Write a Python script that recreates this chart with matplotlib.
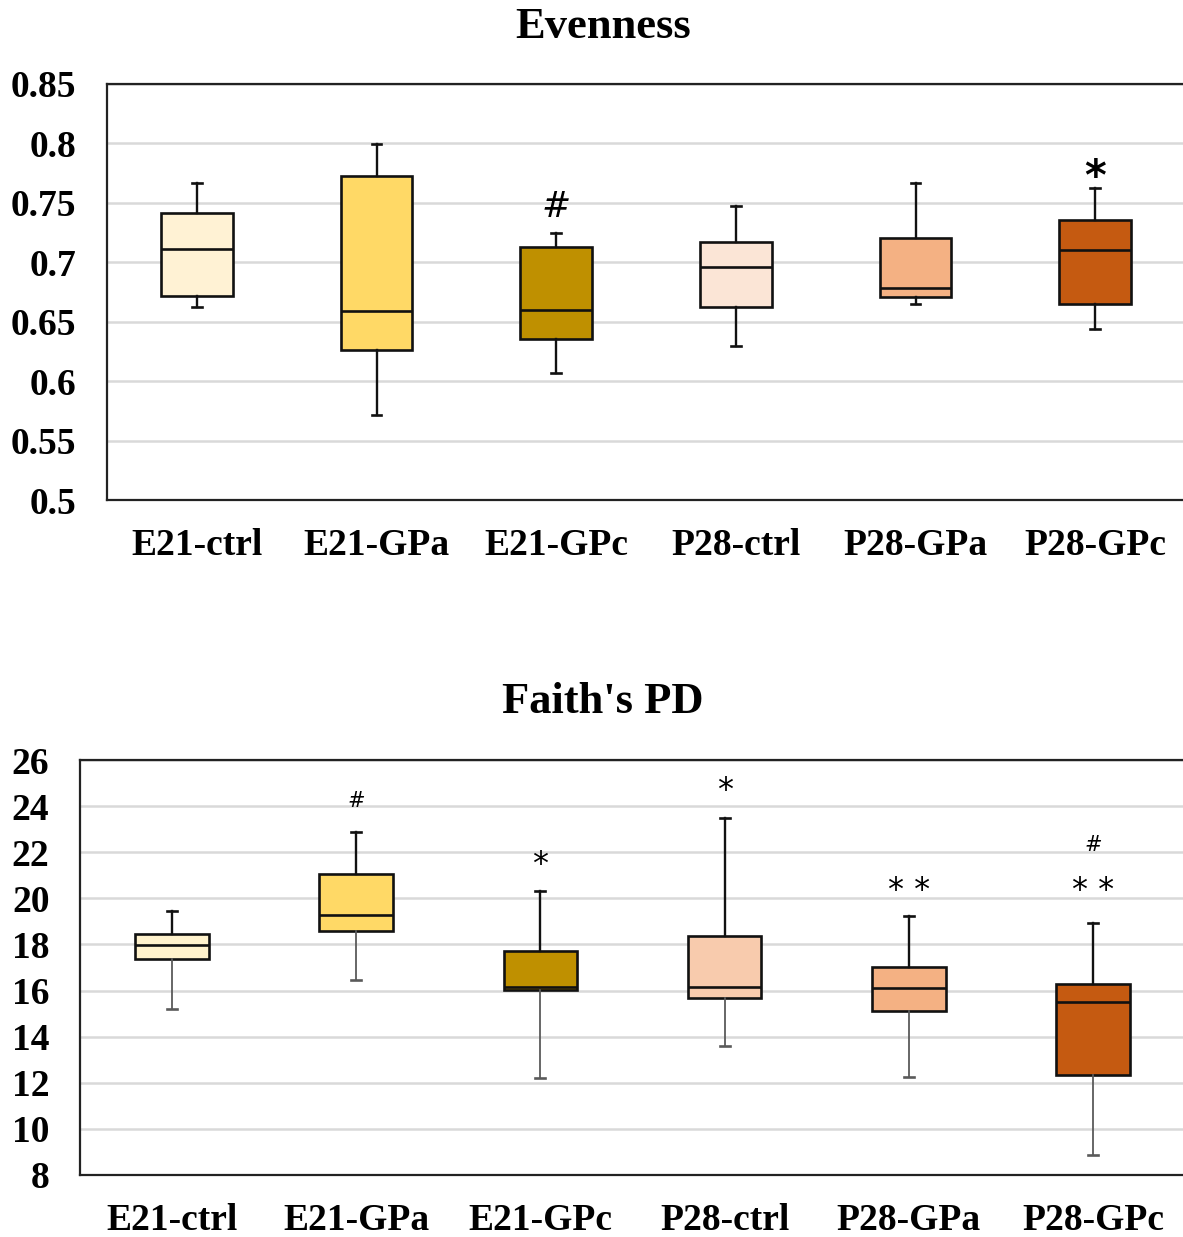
import matplotlib
matplotlib.use("Agg")
import matplotlib.pyplot as plt
from matplotlib.transforms import offset_copy

plt.rcParams['font.family'] = ['Liberation Serif', 'DejaVu Serif']

groups = ['E21-ctrl', 'E21-GPa', 'E21-GPc', 'P28-ctrl', 'P28-GPa', 'P28-GPc']

# Evenness: whisker low, Q1, median, Q3, whisker high
even_lo = [0.6625, 0.5716, 0.607, 0.6297, 0.665, 0.644]
even_q1 = [0.6717, 0.6263, 0.6355, 0.6625, 0.6709, 0.665]
even_med = [0.7112, 0.659, 0.660, 0.696, 0.6784, 0.7104]
even_q3 = [0.7415, 0.7726, 0.7129, 0.7171, 0.7205, 0.7356]
even_hi = [0.7667, 0.7995, 0.7247, 0.7474, 0.7667, 0.7625]
even_ticks = [0.5, 0.55, 0.6, 0.65, 0.7, 0.75, 0.8, 0.85]
even_tick_labels = ['0.5', '0.55', '0.6', '0.65', '0.7', '0.75', '0.8', '0.85']
even_colors = ['#FFF2D4', '#FFD966', '#BF9000', '#FBE5D6', '#F4B183', '#C55A11']
# significance marks: (group index, text, y)
even_marks = [(2, '#', 0.7465), (5, '*', 0.7795)]

# Faith's PD
pd_lo = [15.21, 16.46, 12.22, 13.61, 12.27, 8.87]
pd_q1 = [17.36, 18.57, 16.03, 15.68, 15.13, 12.33]
pd_med = [17.96, 19.28, 16.14, 16.14, 16.11, 15.51]
pd_q3 = [18.44, 21.07, 17.72, 18.38, 17.01, 16.27]
pd_hi = [19.46, 22.89, 20.33, 23.48, 19.22, 18.92]
pd_ticks = [8, 10, 12, 14, 16, 18, 20, 22, 24, 26]
pd_colors = ['#FFF2CC', '#FFD966', '#BF9000', '#F8CBAD', '#F4B183', '#C55A11']
pd_marks = [(1, '#', 24.22), (2, '*', 21.79), (3, '*', 25.0),
            (4, '* *', 20.67), (5, '* *', 20.67), (5, '#', 22.31)]

W, H = 1183, 1237
fig = plt.figure(figsize=(W / 100, H / 100), dpi=100)


def panel(rect, lo, q1, med, q3, hi, colors, ticks, tick_labels, ylim,
          lower_whisker_color):
    ax = fig.add_axes(rect)
    stats = []
    for i in range(len(groups)):
        stats.append({'whislo': lo[i], 'q1': q1[i], 'med': med[i],
                      'q3': q3[i], 'whishi': hi[i], 'fliers': []})
    bp = ax.bxp(stats, positions=range(len(groups)), widths=0.4,
                patch_artist=True, showfliers=False, capwidths=0.055,
                boxprops=dict(linewidth=1.9, edgecolor='#111111'),
                medianprops=dict(linewidth=1.9, color='#111111'),
                whiskerprops=dict(linewidth=1.7, color='#111111'),
                capprops=dict(linewidth=1.9, color='#111111'),
                manage_ticks=False)
    for patch, c in zip(bp['boxes'], colors):
        patch.set_facecolor(c)
    # lower whiskers and caps come first in each pair
    for k in range(0, len(bp['whiskers']), 2):
        bp['whiskers'][k].set_color(lower_whisker_color)
        bp['caps'][k].set_color(lower_whisker_color)
        if lower_whisker_color != '#111111':
            bp['whiskers'][k].set_linewidth(1.3)

    ax.set_xlim(-0.5, len(groups) - 0.5)
    ax.set_ylim(*ylim)
    ax.set_yticks(ticks)
    ax.set_yticklabels(tick_labels)
    ax.set_xticks(range(len(groups)))
    ax.set_xticklabels(groups)
    ax.tick_params(axis='both', length=0, labelsize=27)
    ax.tick_params(axis='y', pad=22)
    ax.tick_params(axis='x', pad=20)
    for lab in ax.get_xticklabels() + ax.get_yticklabels():
        lab.set_fontweight('bold')
    ax.yaxis.grid(True, color='#D9D9D9', linewidth=1.8)
    ax.set_axisbelow(True)
    for sp in ax.spines.values():
        sp.set_linewidth(1.6)
        sp.set_color('#222222')
    return ax


def mark(ax, i, txt, y, size, **kw):
    # asterisks sit high in their glyph box, so nudge them down
    dy = -0.24 * size if '*' in txt else 0
    tr = offset_copy(ax.transData, fig=fig, y=dy, units='points')
    ax.text(i, y, txt, ha='center', va='center', fontsize=size,
            family='DejaVu Sans', transform=tr, **kw)


ax1 = panel([107 / W, 1 - 500 / H, 1078 / W, 416 / H],
            even_lo, even_q1, even_med, even_q3, even_hi, even_colors,
            even_ticks, even_tick_labels, (0.5, 0.85), '#111111')
ax2 = panel([80 / W, 1 - 1175 / H, 1105 / W, 415 / H],
            pd_lo, pd_q1, pd_med, pd_q3, pd_hi, pd_colors,
            pd_ticks, [str(t) for t in pd_ticks], (8, 26), '#5A5A5A')

for i, txt, y in even_marks:
    if txt == '*':
        mark(ax1, i, txt, y, 30, fontweight='bold')
    else:
        mark(ax1, i, txt, y, 25, style='italic')

for i, txt, y in pd_marks:
    if '*' in txt:
        mark(ax2, i, txt, y, 23)
    else:
        mark(ax2, i, txt, y, 15, style='italic')

fig.text(603 / W, 1 - 27 / H, 'Evenness', ha='center', va='center',
         fontsize=32, fontweight='bold')
fig.text(603 / W, 1 - 702 / H, "Faith's PD", ha='center', va='center',
         fontsize=32, fontweight='bold')

fig.savefig('out.png', dpi=100)
